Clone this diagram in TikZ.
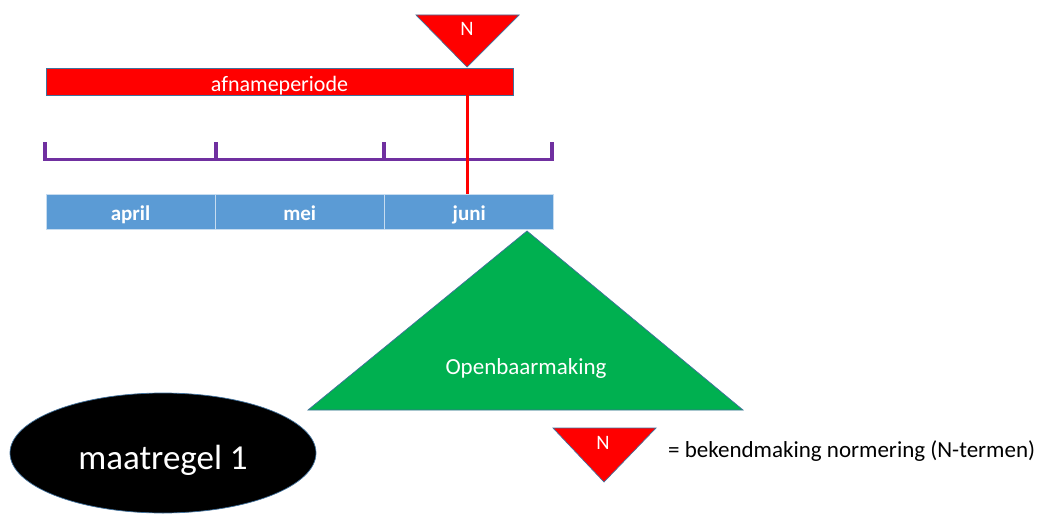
\documentclass[tikz,border=0pt]{standalone}
\usepackage{fontspec}
\setmainfont{Carlito}
\usetikzlibrary{shapes.geometric}
\definecolor{offred}{HTML}{FF0000}
\definecolor{offblue}{HTML}{5B9BD5}
\definecolor{offgreen}{HTML}{00B050}
\definecolor{offpurple}{HTML}{7030A0}
\definecolor{outl}{HTML}{41719C}
\newcommand{\fsz}[1]{\fontsize{#1}{#1}\selectfont}
\begin{document}
\begin{tikzpicture}[x=1pt,y=-1pt,
  shapeline/.style={draw=outl, line width=0.7pt},
  monthbox/.style={fill=offblue, draw=white!65!offblue, line width=1pt,
    minimum width=169pt, minimum height=35pt, inner sep=0pt},
  monthtext/.style={text=white, font=\fsz{21}\bfseries, anchor=base, inner sep=0pt},
  whitetext/.style={text=white, inner sep=0pt, anchor=base},
  purpleline/.style={draw=offpurple, line width=3.5pt},
  redline/.style={draw=offred, line width=3pt}]
\useasboundingbox (0,0) rectangle (1038,516);

% afnameperiode bar
\node[shapeline, fill=offred, minimum width=467pt, minimum height=27pt, inner sep=0pt] (bar) at (279.5,81.5) {};
\node[whitetext, font=\fsz{22}] (bartext) at (279.5,92) {afnameperiode};

% months
\node[monthbox] (april) at (130.5,211.5) {};
\node[monthbox] (mei) at (299.75,211.5) {};
\node[monthbox] (juni) at (469.25,211.5) {};
\node[monthtext] (apriltext) at (130.5,220) {april};
\node[monthtext] (meitext) at (299.75,220) {mei};
\node[monthtext] (junitext) at (469.25,220) {juni};

% purple bracket
\coordinate (b1) at (45,142);
\coordinate (b2) at (216,142);
\coordinate (b3) at (384,142);
\coordinate (b4) at (552,142);
\coordinate (bl) at (45,159.5);
\coordinate (br) at (552,159.5);
\draw[purpleline] (b1) -- (bl) -- (br) -- (b4);
\draw[purpleline] (b2) -- (b2 |- bl);
\draw[purpleline] (b3) -- (b3 |- bl);

% top N triangle
\coordinate (apex) at (467,67);
\draw[shapeline, fill=offred] (416,15) -- (519,15) -- (apex) -- cycle;
\node[whitetext, font=\fsz{20.5}] (ntop) at (467,35.5) {N};

% red line
\draw[redline] (bar.south -| apex) -- (juni.north -| apex);

% green triangle
\draw[shapeline, fill=offgreen] (527,231) -- (743,410) -- (308,410) -- cycle;
\node[whitetext, font=\fsz{23}] (open) at (526,374) {Openbaarmaking};

% ellipse
\node[ellipse, shapeline, fill=black, minimum width=306pt, minimum height=120pt, inner sep=0pt] (maat) at (163,453) {};
\node[whitetext, font=\fsz{35}] (maattext) at (163,469) {maatregel 1};

% legend
\draw[shapeline, fill=offred] (553,428) -- (656,428) -- (604,482) -- cycle;
\node[whitetext, font=\fsz{20.5}] (nleg) at (603,449.5) {N};
\node[inner sep=0pt, anchor=base west, font=\fsz{23}] (legtext) at (668,457) {= bekendmaking normering (N-termen)};
\end{tikzpicture}
\end{document}
